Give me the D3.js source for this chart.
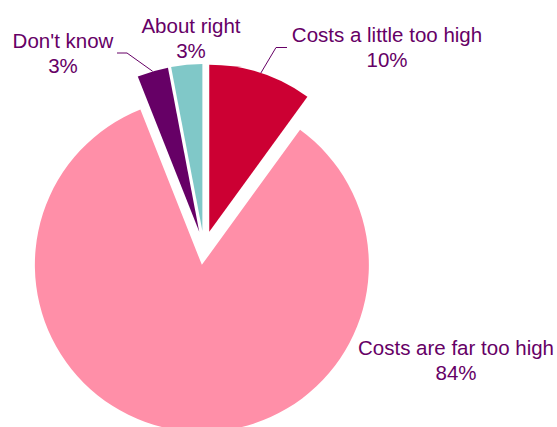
<!DOCTYPE html>
<html>
<head>
<meta charset="utf-8">
<script src="https://cdn.jsdelivr.net/npm/d3@7/dist/d3.min.js"></script>
<style>
  html, body { margin: 0; padding: 0; background: #fff; }
  svg { display: block; }
  text { font-family: "Liberation Sans", Arial, sans-serif; fill: #660066; }
</style>
</head>
<body>
<svg id="chart" width="557" height="427"></svg>
<script>
// Survey answers, in clockwise order from twelve o'clock
const categories = ["Costs a little too high", "Costs are far too high", "Don't know", "About right"];
const shares = [10, 84, 3, 3];
const sliceColors = ["#CC0033", "#FF8FA8", "#660066", "#80C8C8"];

// Where each label block sits (centre x, first baseline y) and its leader line, if any
const labelLayout = [
  { x: 387, y: 42, leader: [[276, 47.5], [287, 47.5]] },
  { x: 456, y: 355, leader: null },
  { x: 63, y: 48, leader: [[127, 53], [117, 53]] },
  { x: 191, y: 33, leader: null }
];

const width = 557, height = 427;
const cx = 204, cy = 248;
const radius = 167;
const explode = 17;

const svg = d3.select("#chart");

const pie = d3.pie().sort(null).value(d => d.value).startAngle(0).endAngle(2 * Math.PI);
const arc = d3.arc().innerRadius(0).outerRadius(radius);

const data = categories.map((c, i) => ({ name: c, value: shares[i], color: sliceColors[i], layout: labelLayout[i] }));
const arcs = pie(data);

const g = svg.append("g").attr("transform", `translate(${cx},${cy})`);

// Each wedge is pulled out from the centre along its mid-angle
function offset(a) {
  const mid = (a.startAngle + a.endAngle) / 2;
  return [Math.sin(mid) * explode, -Math.cos(mid) * explode];
}

g.selectAll("path.slice")
  .data(arcs)
  .enter().append("path")
  .attr("class", "slice")
  .attr("d", arc)
  .attr("fill", d => d.data.color)
  .attr("transform", d => { const o = offset(d); return `translate(${o[0]},${o[1]})`; });

// Leader lines from the outer rim of a wedge to its label
const line = d3.line();
arcs.forEach(a => {
  const lay = a.data.layout;
  if (!lay.leader) return;
  const mid = (a.startAngle + a.endAngle) / 2;
  const o = offset(a);
  const start = [cx + o[0] + Math.sin(mid) * radius, cy + o[1] - Math.cos(mid) * radius];
  svg.append("path")
    .attr("d", line([start, ...lay.leader]))
    .attr("fill", "none")
    .attr("stroke", "#660066")
    .attr("stroke-width", 1);
});

// Two-line labels: category name and percentage
const fmt = v => `${v}%`;
arcs.forEach(a => {
  const lay = a.data.layout;
  const t = svg.append("text")
    .attr("text-anchor", "middle")
    .attr("font-size", "20.5px");
  t.append("tspan").attr("x", lay.x).attr("y", lay.y).text(a.data.name);
  t.append("tspan").attr("x", lay.x).attr("y", lay.y + 25).text(fmt(a.data.value));
});
</script>
</body>
</html>
